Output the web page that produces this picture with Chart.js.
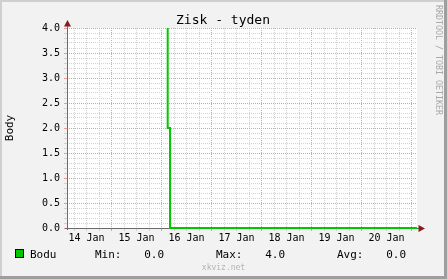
<!DOCTYPE html>
<html>
<head>
<meta charset="utf-8">
<script src="https://cdn.jsdelivr.net/npm/chart.js@4/dist/chart.umd.min.js"></script>
<style>
  html, body { margin: 0; padding: 0; background: #f2f2f2; }
  canvas { display: block; }
</style>
</head>
<body>
<canvas id="zisk" width="447" height="279"></canvas>
<script>
// data (x = days since 14 Jan 00:00)
const dayLabels = ["14 Jan", "15 Jan", "16 Jan", "17 Jan", "18 Jan", "19 Jan", "20 Jan"];
const timeDays = [2.124, 2.17, 7.11];
const boduValues = [4, 2, 0];
const yTickValues = [0, 0.5, 1, 1.5, 2, 2.5, 3, 3.5, 4];
const statLabels = ["Min:", "Max:", "Avg:"];
const statValues = [0.0, 4.0, 0.0];

const MONO = "'DejaVu Sans Mono', monospace";
const GREEN = "#00c800";
const GRID = "#d2d2d2";
const MGRID = "#ec9a9a";

const points = timeDays.map((t, i) => ({ x: t, y: boduValues[i] }));

// midnight ticks are red, 6-hourly ones grey; y: every 0.5 red, every 0.1 grey
function isMajorX(c) { return c.tick && Math.round(c.tick.value * 4) % 4 === 0; }
function isMajorY(c) { return c.tick && Math.round(c.tick.value * 10) % 5 === 0; }

const rrdFrame = {
  id: "rrdFrame",
  beforeDraw(chart) {
    const { ctx, chartArea: a, width, height } = chart;
    ctx.save();
    ctx.fillStyle = "#f2f2f2";
    ctx.fillRect(0, 0, width, height);
    // frame
    ctx.fillStyle = "#cfcfcf";
    ctx.fillRect(0, 0, width, 2);
    ctx.fillRect(0, 0, 2, height);
    ctx.fillStyle = "#9e9e9e";
    ctx.fillRect(0, height - 3, width, 3);
    ctx.fillRect(width - 3, 0, 3, height);
    // canvas
    ctx.fillStyle = "#ffffff";
    ctx.fillRect(a.left, a.top, a.right - a.left, a.bottom - a.top);
    ctx.restore();
  },
  beforeDatasetsDraw(chart) {
    const { ctx, chartArea: a } = chart;
    ctx.save();
    ctx.strokeStyle = "#6b6b6b";
    ctx.lineWidth = 1;
    ctx.beginPath();
    ctx.moveTo(a.left + 0.5, a.bottom + 2);
    ctx.lineTo(a.left + 0.5, a.top - 2);
    ctx.moveTo(a.left - 2, a.bottom + 0.5);
    ctx.lineTo(a.right + 2, a.bottom + 0.5);
    ctx.stroke();
    ctx.restore();
  },
  afterDraw(chart) {
    const { ctx, chartArea: a } = chart;
    ctx.save();
    // title
    ctx.fillStyle = "#000";
    ctx.font = "13px " + MONO;
    ctx.textAlign = "center";
    ctx.textBaseline = "alphabetic";
    ctx.fillText("Zisk - tyden", 223, 24);

    // axis arrows
    ctx.fillStyle = "#8b1a1a";
    ctx.beginPath();
    ctx.moveTo(a.left + 0.5, a.top - 8);
    ctx.lineTo(a.left - 3, a.top - 1.5);
    ctx.lineTo(a.left + 4, a.top - 1.5);
    ctx.closePath();
    ctx.fill();
    ctx.beginPath();
    ctx.moveTo(a.right + 8, a.bottom + 0.5);
    ctx.lineTo(a.right + 1.5, a.bottom - 3);
    ctx.lineTo(a.right + 1.5, a.bottom + 4);
    ctx.closePath();
    ctx.fill();

    // legend row
    const base = 258;
    ctx.fillStyle = GREEN;
    ctx.fillRect(15.5, 249.5, 8, 8);
    ctx.strokeStyle = "#000";
    ctx.lineWidth = 1;
    ctx.strokeRect(15.5, 249.5, 8, 8);
    ctx.fillStyle = "#000";
    ctx.font = "11px " + MONO;
    ctx.textAlign = "left";
    ctx.fillText("Bodu", 30, base);
    const labelX = [95, 216, 337];
    const valueX = [164, 285, 406];
    statLabels.forEach((s, i) => {
      ctx.textAlign = "left";
      ctx.fillText(s, labelX[i], base);
      ctx.textAlign = "right";
      ctx.fillText(statValues[i].toFixed(1), valueX[i], base);
    });

    // watermark
    ctx.fillStyle = "#b4b4b4";
    ctx.font = "8px " + MONO;
    ctx.textAlign = "center";
    ctx.textBaseline = "middle";
    ctx.fillText("xkviz.net", 223.5, 268);

    // side label
    ctx.translate(438, 5);
    ctx.rotate(Math.PI / 2);
    ctx.textAlign = "left";
    ctx.fillStyle = "#a8a8a8";
    ctx.font = "8.3px " + MONO;
    ctx.fillText("RRDTOOL / TOBI OETIKER", 0, 0);
    ctx.restore();
  }
};

new Chart(document.getElementById("zisk"), {
  type: "line",
  data: {
    datasets: [{
      label: "Bodu",
      data: points,
      borderColor: GREEN,
      borderWidth: 2,
      pointRadius: 0,
      stepped: "after",
      fill: false,
      clip: 2,
    }],
  },
  options: {
    responsive: false,
    animation: false,
    layout: { padding: { left: 0, right: 30, top: 28, bottom: 0 } },
    plugins: {
      legend: { display: false },
      tooltip: { enabled: false },
    },
    scales: {
      x: {
        type: "linear",
        min: 0.11,
        max: 7.11,
        afterBuildTicks(scale) {
          const ticks = [];
          for (let q = 1; q <= 28; q++) ticks.push({ value: q / 4 });
          scale.ticks = ticks;
        },
        afterFit(scale) { scale.height = 51; },
        ticks: {
          autoSkip: false,
          maxRotation: 0,
          padding: 1,
          color: "#000",
          font: { family: MONO, size: 10 },
          callback: (v) => (Math.round(v * 4) % 4 === 2 ? dayLabels[Math.floor(v)] : ""),
        },
        grid: {
          color: (c) => (isMajorX(c) ? MGRID : GRID),
          lineWidth: 1,
          tickLength: 3,
        },
        border: { display: false, dash: [1, 1] },
      },
      y: {
        min: 0,
        max: 4,
        afterBuildTicks(scale) {
          const ticks = [];
          for (let i = 0; i <= 40; i++) ticks.push({ value: i / 10 });
          scale.ticks = ticks;
        },
        afterFit(scale) { scale.width = 67; },
        ticks: {
          autoSkip: false,
          padding: 4,
          color: "#000",
          font: { family: MONO, size: 10 },
          callback: (v) => {
            const hit = yTickValues.find((t) => Math.abs(t - v) < 1e-6);
            return hit === undefined ? "" : hit.toFixed(1);
          },
        },
        grid: {
          color: (c) => (isMajorY(c) ? MGRID : GRID),
          lineWidth: 1,
          tickLength: 3,
        },
        border: { display: false, dash: [1, 1] },
        title: {
          display: true,
          text: "Body",
          color: "#000",
          font: { family: MONO, size: 11 },
          padding: { top: 4, bottom: 0 },
        },
      },
    },
  },
  plugins: [rrdFrame],
});
</script>
</body>
</html>
